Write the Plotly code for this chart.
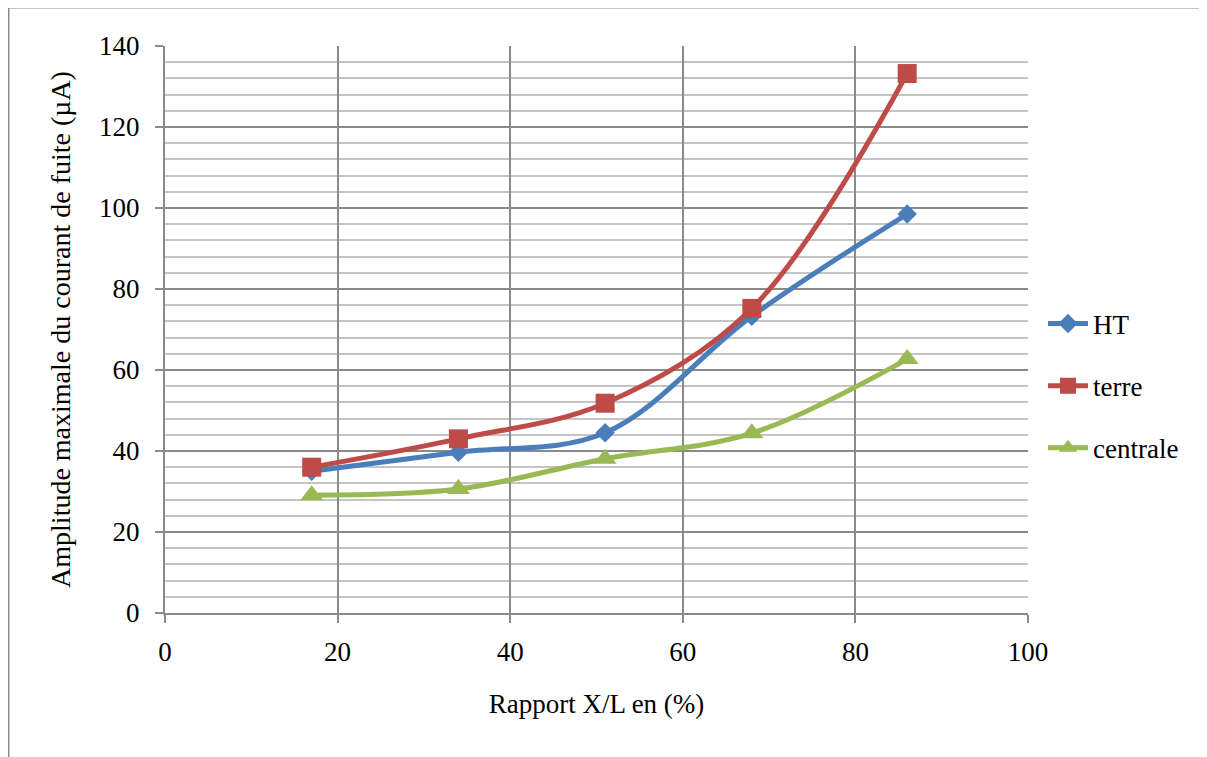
import plotly.graph_objects as go

x_ratio = [17, 34, 51, 68, 86]
ht = [35, 39.7, 44.5, 73.3, 98.5]
terre = [36, 43, 51.8, 75.2, 133.2]
centrale = [29.1, 30.6, 38.1, 44.4, 62.7]

series_names = ["HT", "terre", "centrale"]
x_title = "Rapport X/L en (%)"
y_title = "Amplitude maximale du courant de fuite (µA)"

# page body adds an 8px offset; figure sized so the plot lands where the reference has it
W, H = 1199, 749
L, R, T, B = 157, 179, 38, 144
FONT = "Liberation Serif"

fig = go.Figure()
styles = [
    (ht, "#4A7EBB", "diamond", 15),
    (terre, "#BE4B48", "square", 19),
    (centrale, "#98B954", "triangle-up", 20),
]
for name, (vals, col, sym, sz) in zip(series_names, styles):
    fig.add_trace(go.Scatter(
        x=x_ratio, y=vals, name=name, mode="lines+markers",
        legendgroup=name,
        line=dict(color=col, width=5, shape="spline", smoothing=1),
        marker=dict(symbol=sym, size=sz, color=col),
    ))

pw = W - L - R
ph = H - T - B
# outer chart border (left and top visible)
bx = (0.5 - L) / pw
by = 1 + (T + 0.5) / ph
fig.add_shape(type="line", xref="paper", yref="paper", x0=bx, x1=bx, y0=by, y1=-1,
              line=dict(color="#8C8C8C", width=2))
fig.add_shape(type="line", xref="paper", yref="paper", x0=bx, x1=2, y0=by, y1=by,
              line=dict(color="#8C8C8C", width=2))

fig.update_layout(
    width=W, height=H,
    margin=dict(l=L, r=R, t=T, b=B),
    paper_bgcolor="white", plot_bgcolor="white",
    font=dict(family=FONT, size=27, color="black"),
    showlegend=True,
    legend=dict(x=(878 - 0) / pw, xanchor="left", y=(605 - 378) / ph, yanchor="middle",
                tracegroupgap=24, font=dict(family=FONT, size=27, color="black"),
                bgcolor="rgba(0,0,0,0)", itemwidth=40),
    xaxis=dict(
        range=[0, 100], dtick=20, tick0=0,
        showgrid=True, gridcolor="#8A8A8A", gridwidth=1.5,
        zeroline=False, showline=True, linecolor="#8A8A8A", linewidth=2,
        ticks="outside", ticklen=8, tickcolor="#8A8A8A", tickwidth=1.5,
        ticklabelstandoff=6,
        tickfont=dict(family=FONT, size=27, color="black"),
        title=dict(text=x_title, font=dict(family=FONT, size=27, color="black"), standoff=28),
    ),
    yaxis=dict(
        range=[0, 140], dtick=20, tick0=0,
        showgrid=True, gridcolor="#8A8A8A", gridwidth=1.5,
        minor=dict(dtick=4, showgrid=True, gridcolor="#C4C4C4", gridwidth=1.5, ticks=""),
        zeroline=False, showline=True, linecolor="#8A8A8A", linewidth=2,
        ticks="outside", ticklen=8, tickcolor="#8A8A8A", tickwidth=1.5,
        ticklabelstandoff=10,
        tickfont=dict(family=FONT, size=27, color="black"),
        title=dict(text=y_title, font=dict(family=FONT, size=28, color="black"), standoff=20),
    ),
)

fig.write_html("out.html")
